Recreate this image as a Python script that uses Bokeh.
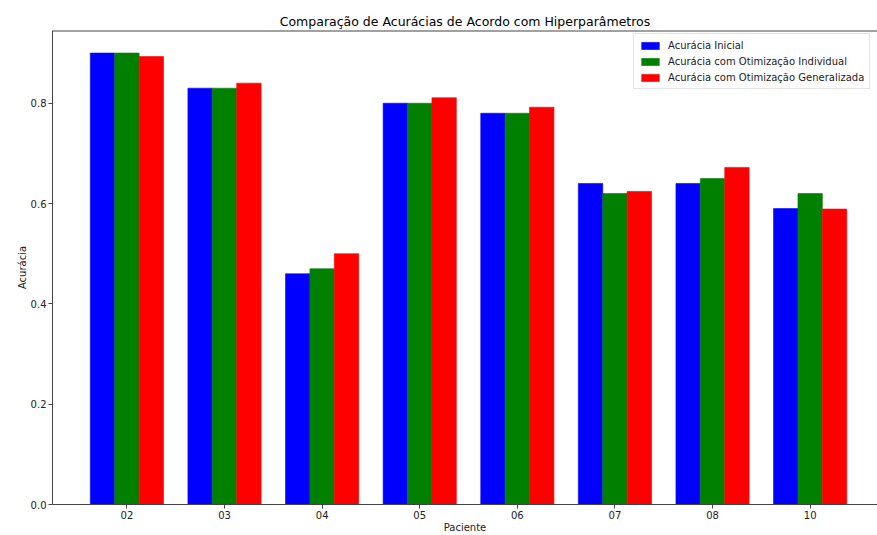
from bokeh.plotting import figure
from bokeh.models import (ColumnDataSource, FixedTicker, Range1d, Span,
                          Legend, LegendItem, NumeralTickFormatter)
from bokeh.embed import file_html
from bokeh.resources import INLINE

# Accuracy per patient for each hyperparameter setting
pacientes = ["02", "03", "04", "05", "06", "07", "08", "10"]
acc_inicial = [0.90, 0.83, 0.46, 0.80, 0.78, 0.64, 0.64, 0.59]
acc_individual = [0.90, 0.83, 0.47, 0.80, 0.78, 0.62, 0.65, 0.62]
acc_generalizada = [0.893, 0.840, 0.50, 0.811, 0.792, 0.624, 0.672, 0.589]

series_labels = ["Acurácia Inicial",
                 "Acurácia com Otimização Individual",
                 "Acurácia com Otimização Generalizada"]
series_colors = ["#0000ff", "#008000", "#ff0000"]

FONT = "DejaVu Sans"
bar_w = 0.25
y_top = 0.945
idx = list(range(len(pacientes)))

p = figure(width=877, height=535, output_backend="svg", toolbar_location=None,
           x_range=Range1d(-0.7625, 7.69), y_range=Range1d(0, y_top),
           min_border_left=52, min_border_right=0, min_border_top=30,
           min_border_bottom=31)

p.title.text = "Comparação de Acurácias de Acordo com Hiperparâmetros"
p.title.align = "center"
p.title.text_font = FONT
p.title.text_font_size = "12.5px"
p.title.text_font_style = "normal"
p.title.text_color = "#000000"
p.title.offset = 0
p.title.standoff = 4

p.outline_line_color = None
p.xgrid.visible = False
p.ygrid.visible = False

renderers = []
for k, (vals, color) in enumerate(zip([acc_inicial, acc_individual, acc_generalizada],
                                       series_colors)):
    src = ColumnDataSource(dict(x=[i + (k - 1) * bar_w for i in idx], top=vals))
    r = p.vbar(x="x", top="top", width=bar_w, bottom=0, source=src,
               fill_color=color, line_color=color, line_width=0.6)
    renderers.append(r)

axis_color = "#444444"
for ax in (p.xaxis[0], p.yaxis[0]):
    ax.axis_line_color = axis_color
    ax.major_tick_line_color = axis_color
    ax.major_tick_out = 4
    ax.major_tick_in = 0
    ax.minor_tick_line_color = None
    ax.major_label_text_font = FONT
    ax.major_label_text_font_size = "10px"
    ax.major_label_text_color = "#222222"
    ax.axis_label_text_font = FONT
    ax.axis_label_text_font_size = "10px"
    ax.axis_label_text_font_style = "normal"
    ax.axis_label_text_color = "#222222"
    ax.major_label_standoff = 2
    ax.axis_label_standoff = 2

p.xaxis.ticker = FixedTicker(ticks=idx)
p.xaxis.major_label_overrides = {i: lab for i, lab in zip(idx, pacientes)}
p.xaxis.axis_label = "Paciente"
p.xaxis.major_label_standoff = 2
p.xaxis.axis_label_standoff = 0

p.yaxis.ticker = FixedTicker(ticks=[0.0, 0.2, 0.4, 0.6, 0.8])
p.yaxis.formatter = NumeralTickFormatter(format="0.0")
p.yaxis.axis_label = "Acurácia"
p.yaxis.axis_label_standoff = 0

# top spine along the upper edge of the frame
p.add_layout(Span(location=y_top, dimension="width", line_color=axis_color,
                  line_width=2))

legend = Legend(items=[LegendItem(label=lab, renderers=[r])
                       for lab, r in zip(series_labels, renderers)],
                location=(581, 415))
legend.label_text_font = FONT
legend.label_text_font_size = "10px"
legend.label_text_color = "#222222"
legend.glyph_width = 22
legend.glyph_height = 9
legend.label_height = 12
legend.label_standoff = 7
legend.spacing = 4
legend.padding = 5
legend.margin = 0
legend.border_line_color = "#cccccc"
legend.background_fill_alpha = 0.8
p.add_layout(legend, "center")

open("out.html", "w").write(file_html(p, INLINE))
